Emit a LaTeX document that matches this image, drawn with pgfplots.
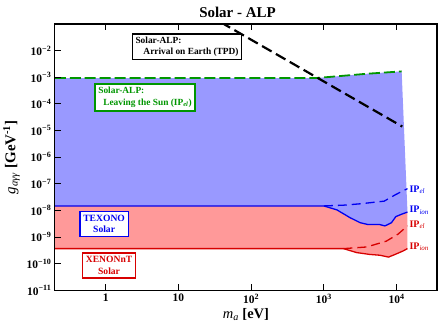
\documentclass[border=0pt]{standalone}
\usepackage{fontspec}
\setmainfont{Liberation Serif}
\usepackage{pgfplots}
\pgfplotsset{compat=1.18}
\definecolor{bfill}{RGB}{153,153,255}
\definecolor{rfill}{RGB}{255,153,153}
\definecolor{gline}{RGB}{0,150,0}
\definecolor{bline}{RGB}{0,0,240}
\definecolor{rline}{RGB}{215,0,0}
\newcommand{\tl}[1]{\textbf{10\textsuperscript{−#1}}}
\newcommand{\IP}[1]{\textbf{IP}\textsubscript{\textit{#1}}}

\begin{document}
\begin{tikzpicture}
\begin{axis}[
    scale only axis, width=383pt, height=267pt,
    xmode=log, ymode=log, log basis x=10, log basis y=10,
    xmin=0.2, xmax=3.6e4, ymin=1e-11, ymax=1e-1,
    axis on top,
    axis line style={line width=1.1pt},
    every tick/.style={black, line width=0.8pt},
    major tick length=6pt, minor tick length=3.5pt,
    ytick pos=left, xtick pos=both,
    xtick={1,10,100,1000,10000},
    xticklabels={\textbf{1},\textbf{10},\textbf{10\textsuperscript{2}},\textbf{10\textsuperscript{3}},\textbf{10\textsuperscript{4}}},
    ytick={1e-11,1e-10,1e-9,1e-8,1e-7,1e-6,1e-5,1e-4,1e-3,1e-2},
    yticklabels={\tl{11},\tl{10},\tl{9},\tl{8},\tl{7},\tl{6},\tl{5},\tl{4},\tl{3},\tl{2}},
    ticklabel style={font=\fontsize{11.5}{13}\selectfont},
    xlabel={\fontsize{14.5}{16}\selectfont\textit{m}\textsubscript{\textit{a}} \textbf{[eV]}},
    ylabel={\fontsize{15}{17}\selectfont\textit{g}\textsubscript{\textit{aγγ}} \textbf{[GeV\textsuperscript{-1}]}},
    xlabel style={yshift=2pt},
    ylabel style={yshift=0pt},
    title={Solar - ALP},
    title style={font=\fontsize{15}{17}\selectfont\bfseries, at={(0.478,1)}, anchor=south, yshift=-1pt, inner sep=1pt},
]
% blue region: between Leaving-the-Sun line and TEXONO IP_ion
\addplot[fill=bfill, draw=none] coordinates {
    (0.2,9.3e-4) (780,9.3e-4) (3890,1.35e-3) (11750,1.66e-3)
    (14125,8.71e-9) (11750,7.24e-9) (9772,5.89e-9) (8511,3.47e-9) (6918,2.63e-9)
    (5888,2.95e-9) (4074,2.95e-9) (3162,3.47e-9) (2291,5.37e-9) (1514,1.05e-8)
    (1000,1.48e-8) (0.2,1.48e-8)
} --cycle;
% red region: between TEXONO IP_ion and XENONnT IP_ion
\addplot[fill=rfill, draw=none] coordinates {
    (0.2,1.48e-8) (1000,1.48e-8) (1514,1.05e-8) (2291,5.37e-9) (3162,3.47e-9)
    (4074,2.95e-9) (5888,2.95e-9) (6918,2.63e-9) (8511,3.47e-9) (9772,5.89e-9)
    (11750,7.24e-9) (14125,8.71e-9)
    (14125,3.72e-10) (12303,3.02e-10) (9550,2.24e-10) (7762,1.78e-10) (5888,2.09e-10)
    (4266,2.24e-10) (2818,2.63e-10) (1862,3.7e-10) (0.2,3.7e-10)
} --cycle;
% XENONnT lines
\addplot[rline, line width=1.3pt] coordinates {
    (0.2,3.7e-10) (1862,3.7e-10) (2818,2.63e-10) (4266,2.24e-10) (5888,2.09e-10)
    (7762,1.78e-10) (9550,2.24e-10) (12303,3.02e-10) (14125,3.72e-10)
};
\addplot[rline, line width=1.3pt, dash pattern=on 9pt off 5pt] coordinates {
    (1862,3.7e-10) (3890,4.27e-10) (7244,7.08e-10) (10471,1.29e-9) (14125,2.63e-9)
};
% TEXONO lines
\addplot[bline, line width=1.3pt] coordinates {
    (0.2,1.48e-8) (1000,1.48e-8) (1514,1.05e-8) (2291,5.37e-9) (3162,3.47e-9)
    (4074,2.95e-9) (5888,2.95e-9) (6918,2.63e-9) (8511,3.47e-9) (9772,5.89e-9)
    (11750,7.24e-9) (14125,8.71e-9)
};
\addplot[bline, line width=1.3pt, dash pattern=on 9pt off 5pt] coordinates {
    (1000,1.48e-8) (1862,1.58e-8) (3162,1.78e-8) (6761,2.24e-8) (9772,3.98e-8) (14125,6.6e-8)
};
% Solar-ALP leaving the Sun
\addplot[gline, line width=1.8pt, dash pattern=on 11pt off 4pt] coordinates {
    (0.2,9.3e-4) (780,9.3e-4) (3890,1.35e-3) (11750,1.66e-3)
};
% Solar-ALP arrival on Earth
\addplot[black, line width=2.2pt, dash pattern=on 11pt off 5pt] coordinates {
    (38,0.117) (12000,1.41e-5)
};

\node[draw=black, fill=white, line width=1.4pt, align=left, inner sep=3pt,
      font=\fontsize{9.4}{11}\selectfont\bfseries] at (rel axis cs:0.346,0.914)
    {Solar-ALP:\\\hspace*{8pt}Arrival on Earth (TPD)};
\node[draw=gline, text=gline, fill=white, line width=1.4pt, align=left, inner sep=3.5pt,
      font=\fontsize{9.4}{11.5}\selectfont\bfseries] at (rel axis cs:0.236,0.724)
    {Solar-ALP:\\\hspace*{5pt}Leaving the Sun (IP\textsubscript{\textit{el}})};
\node[draw=bline, text=bline, fill=white, line width=1.4pt, align=center, inner sep=3.5pt,
      font=\fontsize{9.6}{11.5}\selectfont\bfseries] at (rel axis cs:0.129,0.249)
    {TEXONO\\Solar};
\node[draw=rline, text=rline, fill=white, line width=1.4pt, align=center, inner sep=3.5pt,
      font=\fontsize{9.6}{11.5}\selectfont\bfseries] at (rel axis cs:0.142,0.094)
    {XENONnT\\Solar};

\node[anchor=west, text=bline, font=\fontsize{10}{11}\selectfont, inner sep=1pt] at (rel axis cs:0.925,0.378) {\IP{el}};
\node[anchor=west, text=bline, font=\fontsize{10}{11}\selectfont, inner sep=1pt] at (rel axis cs:0.925,0.300) {\IP{ion}};
\node[anchor=west, text=rline, font=\fontsize{10}{11}\selectfont, inner sep=1pt] at (rel axis cs:0.925,0.247) {\IP{el}};
\node[anchor=west, text=rline, font=\fontsize{10}{11}\selectfont, inner sep=1pt] at (rel axis cs:0.925,0.164) {\IP{ion}};
\end{axis}
\path ([xshift=-54pt,yshift=-33pt]current axis.south west) rectangle ([xshift=10pt,yshift=24pt]current axis.north east);
\end{tikzpicture}
\end{document}
